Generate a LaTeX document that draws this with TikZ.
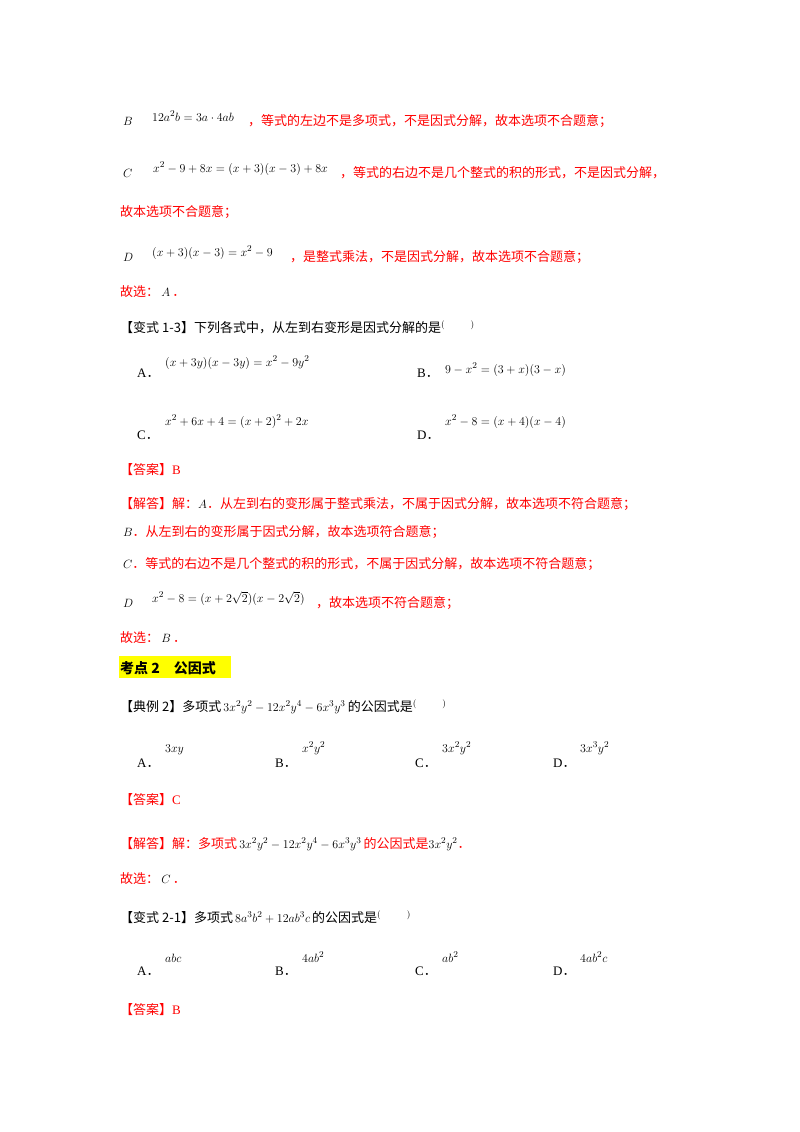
\documentclass[tikz,border=0pt]{standalone}
\usepackage{fontspec}
\setmainfont{Liberation Serif}
\newfontfamily\cjk{Noto Sans CJK SC}
\DeclareMathSizes{13}{13}{9}{7}
\DeclareMathSizes{14}{13}{9}{7}
\definecolor{rd}{RGB}{255,0,0}
\definecolor{hl}{RGB}{255,255,0}
\newcommand{\R}[1]{\textcolor{rd}{\cjk #1}}
\newcommand{\K}[1]{{\cjk #1}}
\newcommand{\OP}[1]{#1{\cjk ．}}
\begin{document}
\begin{tikzpicture}[x=1pt,y=-1pt,font=\fontsize{13}{15}\selectfont,
  t/.style={anchor=base west,inner sep=0pt},
  m/.style={anchor=base west,inner sep=0pt,font=\fontsize{13}{15}\selectfont}]
\useasboundingbox (0,0) rectangle (800,1132);
% B
\node[t] (b1) at (123,125) {$B$};
\node[m] (b2) at (152,121) {$12a^2b=3a\cdot 4ab$};
\node[t] (b3) at (248,125) {\R{，等式的左边不是多项式，不是因式分解，故本选项不合题意；}};
% C
\node[t] (c1) at (123,177) {$C$};
\node[m] (c2) at (153,172) {$x^2-9+8x=(x+3)(x-3)+8x$};
\node[t] (c3) at (340,177) {\R{，等式的右边不是几个整式的积的形式，不是因式分解，}};
\node[t] (c4) at (120,216) {\R{故本选项不合题意；}};
% D
\node[t] (d1) at (123,261) {$D$};
\node[m] (d2) at (152,256) {$(x+3)(x-3)=x^2-9$};
\node[t] (d3) at (290,261) {\R{，是整式乘法，不是因式分解，故本选项不合题意；}};
\node[t] (g1) at (120,296) {\R{故选：}\,$A$\,\R{．}};
% variant 1-3
\node[t] (v13) at (120,332) {\K{【变式 1-3】下列各式中，从左到右变形是因式分解的是}$^{(\qquad)}$};
\node[t] (oA) at (137,377) {\OP{A}};
\node[m] (eA) at (165,366) {$(x+3y)(x-3y)=x^2-9y^2$};
\node[t] (oB) at (417,377) {\OP{B}};
\node[m] (eB) at (445,373) {$9-x^2=(3+x)(3-x)$};
\node[t] (oC) at (137,439) {\OP{C}};
\node[m] (eC) at (165,425) {$x^2+6x+4=(x+2)^2+2x$};
\node[t] (oD) at (417,439) {\OP{D}};
\node[m] (eD) at (445,425) {$x^2-8=(x+4)(x-4)$};
\node[t] (ans1) at (120,474) {\R{【答案】}\textcolor{rd}{B}};
\node[t] (j1) at (120,508) {\R{【解答】解：}$A$\R{．从左到右的变形属于整式乘法，不属于因式分解，故本选项不符合题意；}};
\node[t] (j2) at (123,536) {$B$\R{．从左到右的变形属于因式分解，故本选项符合题意；}};
\node[t] (j3) at (123,568) {$C$\R{．等式的右边不是几个整式的积的形式，不属于因式分解，故本选项不符合题意；}};
\node[t] (j4a) at (123,607) {$D$};
\node[m] (j4b) at (152,602) {$x^2-8=(x+2\sqrt{2})(x-2\sqrt{2})$};
\node[t] (j4c) at (316,607) {\R{，故本选项不符合题意；}};
\node[t] (g2) at (120,642) {\R{故选：}\,$B$\,\R{．}};
% heading
\fill[hl] (119,656) rectangle (231,678);
\node[t,font=\fontsize{14}{16}\selectfont\bfseries] (h) at (120,673) {\K{\bfseries 考点 2\quad 公因式}};
% example 2
\node[t] (e2) at (120,711) {\K{【典例 2】多项式}\,$3x^2y^2-12x^2y^4-6x^3y^3$\,\K{的公因式是}$^{(\qquad)}$};
\node[t] (e2A) at (137,767) {\OP{A}};
\node[m] (e2Aa) at (165,752) {$3xy$};
\node[t] (e2B) at (275,767) {\OP{B}};
\node[m] (e2Bb) at (302,752) {$x^2y^2$};
\node[t] (e2C) at (415,767) {\OP{C}};
\node[m] (e2Cc) at (442,752) {$3x^2y^2$};
\node[t] (e2D) at (553,767) {\OP{D}};
\node[m] (e2Dd) at (580,752) {$3x^3y^2$};
\node[t] (ans2) at (120,804) {\R{【答案】}\textcolor{rd}{C}};
\node[t] (j5) at (120,848) {\R{【解答】解：多项式}\,$3x^2y^2-12x^2y^4-6x^3y^3$\,\R{的公因式是}$3x^2y^2$\R{．}};
\node[t] (g3) at (120,883) {\R{故选：}\,$C$\,\R{．}};
% variant 2-1
\node[t] (v21) at (120,922) {\K{【变式 2-1】多项式}\,$8a^3b^2+12ab^3c$\,\K{的公因式是}$^{(\qquad)}$};
\node[t] (fA) at (137,975) {\OP{A}};
\node[m] (fAa) at (165,962) {$abc$};
\node[t] (fB) at (275,975) {\OP{B}};
\node[m] (fBb) at (302,962) {$4ab^2$};
\node[t] (fC) at (415,975) {\OP{C}};
\node[m] (fCc) at (442,962) {$ab^2$};
\node[t] (fD) at (553,975) {\OP{D}};
\node[m] (fDd) at (580,962) {$4ab^2c$};
\node[t] (ans3) at (120,1014) {\R{【答案】}\textcolor{rd}{B}};
\end{tikzpicture}
\end{document}
